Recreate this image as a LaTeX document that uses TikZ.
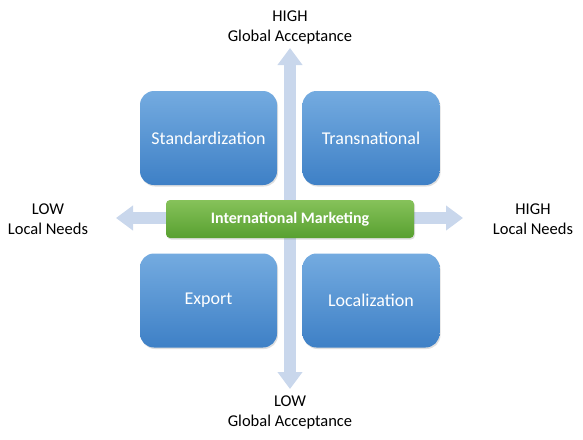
\documentclass[tikz,border=0pt]{standalone}
\usepackage{fontspec}
\setmainfont{Carlito}
\usetikzlibrary{arrows.meta,shadows}
\definecolor{axe}{HTML}{C9D7EC}
\definecolor{bleuhaut}{HTML}{74ABE0}
\definecolor{bleubas}{HTML}{3E80C6}
\definecolor{verthaut}{HTML}{86C25A}
\definecolor{vertbas}{HTML}{58A030}
\begin{document}
\begin{tikzpicture}[x=1pt,y=-1pt,
	quadrant/.style={rounded corners=14pt,minimum width=137pt,minimum height=94pt,
		top color=bleuhaut,bottom color=bleubas,draw=none,text=white,
		font=\fontsize{18}{21}\selectfont,
		drop shadow={opacity=0.25,shadow xshift=1pt,shadow yshift=-1.5pt}},
	centre/.style={rounded corners=4pt,minimum width=248pt,minimum height=38pt,
		top color=verthaut,bottom color=vertbas,draw=none,text=white,
		font=\bfseries\fontsize{16}{19}\selectfont,
		drop shadow={opacity=0.25,shadow xshift=1pt,shadow yshift=-1.5pt}},
	legende/.style={align=center,font=\fontsize{16.5}{20}\selectfont},
	fleche/.style={axe,line width=12pt,-{Triangle[width=24pt,length=17pt]}}]% une unité = un pixel de l'image
	\useasboundingbox (0,0) rectangle (583,439);
	\coordinate (milieu) at (290,218);
	\foreach \nom/\x/\y in {haut/290/48,bas/290/389,gauche/116/218,droite/463/218}{
		\coordinate (\nom) at (\x,\y);}
	\draw[fleche] (milieu)--(haut);
	\draw[fleche] (milieu)--(bas);
	\draw[fleche] (milieu)--(gauche);
	\draw[fleche] (milieu)--(droite);

	\node[quadrant] (standard) at (208.5,138) {Standardization};
	\node[quadrant] (transnat) at (371,138) {Transnational};
	\node[quadrant] (export) at (208.5,300.5) {Export};
	\node[quadrant] (local) at (371,300.5) {Localization};
	\node[centre] (marketing) at (290,219) {International Marketing};

	\node[legende] (lhaut) at (290,27) {HIGH\\Global Acceptance};
	\node[legende] (lbas) at (290,412) {LOW\\Global Acceptance};
	\node[legende] (lgauche) at (48,219) {LOW\\Local Needs};
	\node[legende] (ldroite) at (533,219) {HIGH\\Local Needs};
\end{tikzpicture}
\end{document}
